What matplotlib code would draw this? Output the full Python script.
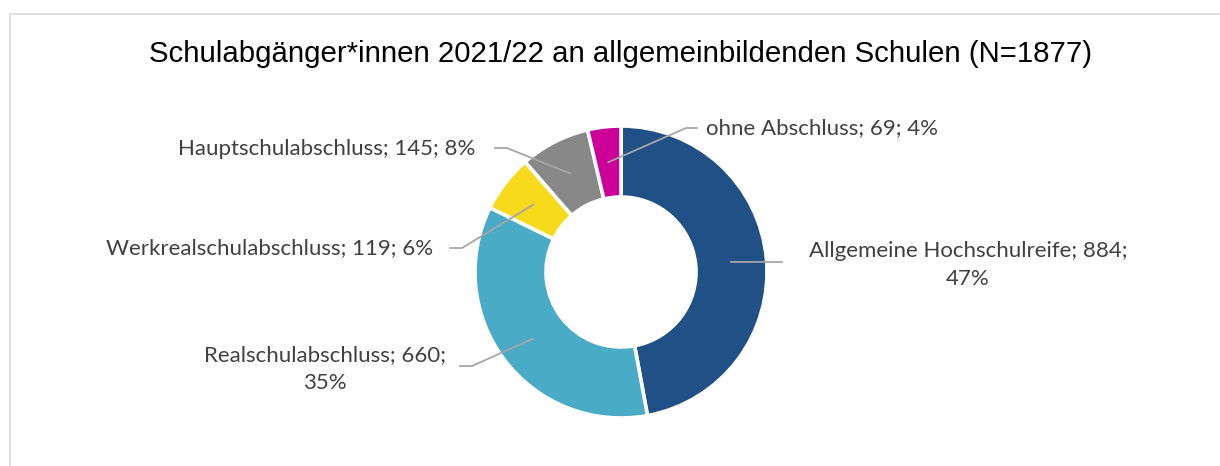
import numpy as np
import matplotlib
matplotlib.use('Agg')
import matplotlib.pyplot as plt
from matplotlib.patches import Rectangle

# Data
categories = ['Allgemeine Hochschulreife', 'Realschulabschluss', 'Werkrealschulabschluss',
              'Hauptschulabschluss', 'ohne Abschluss']
counts = [884, 660, 119, 145, 69]
colors = ['#215086', '#4AABC6', '#F6DA1B', '#888888', '#CC0099']
title = 'Schulabgänger*innen 2021/22 an allgemeinbildenden Schulen (N=1877)'

W, H = 1220, 466
def Y(p):
    # pixel row -> data y
    return H - p

fig = plt.figure(figsize=(W / 100, H / 100), dpi=100)
ax = fig.add_axes([0, 0, 1, 1])

cx, cy = 621, 272
r_out, ring = 146, 71

wedges, _ = ax.pie(counts, colors=colors, startangle=90, counterclock=False,
                   radius=r_out, center=(cx, Y(cy)), frame=True,
                   wedgeprops=dict(width=ring, edgecolor='white', linewidth=2.6))

ax.set_xlim(0, W)
ax.set_ylim(0, H)
ax.set_aspect('auto')
ax.axis('off')

# chart frame
ax.add_patch(Rectangle((10, -20), W + 20, Y(14) + 20, fill=False,
                       edgecolor='#D9D9D9', linewidth=1.2))

ax.text(cx, Y(54), title, ha='center', va='center', fontsize=21.2,
        family='Liberation Sans', color='#000000')

# label layout: (elbow, end of leader, text anchor, ha, wrap)
layout = [
    (None, (782, 262), (968, 265), 'center', True),
    ((472, 366), (460, 366), (325, 369), 'center', True),
    ((462, 248), (450, 248), (433, 248), 'right', False),
    ((507, 148), (495, 148), (475, 149), 'right', False),
    ((686, 128), (697, 128), (706, 128), 'left', False),
]

total = sum(counts)
r_mid = r_out - ring / 2
for w, name, n, (elbow, end, pos, ha, wrap) in zip(wedges, categories, counts, layout):
    ang = np.deg2rad((w.theta1 + w.theta2) / 2)
    sx, sy = cx + r_mid * np.cos(ang), Y(cy) + r_mid * np.sin(ang)
    xs, ys = [sx], [sy]
    if elbow:
        xs.append(elbow[0]); ys.append(Y(elbow[1]))
    xs.append(end[0]); ys.append(Y(end[1]))
    ax.plot(xs, ys, color='#A6A6A6', linewidth=1.3)
    pct = round(100 * n / total)
    sep = '\n' if wrap else ' '
    txt = f'{name}; {n};{sep}{pct}%'
    ax.text(pos[0], Y(pos[1]), txt, ha=ha, va='center', multialignment='center',
            fontsize=16, family='Lato', color='#404040', linespacing=1.45)

fig.savefig('out.png', dpi=100)
